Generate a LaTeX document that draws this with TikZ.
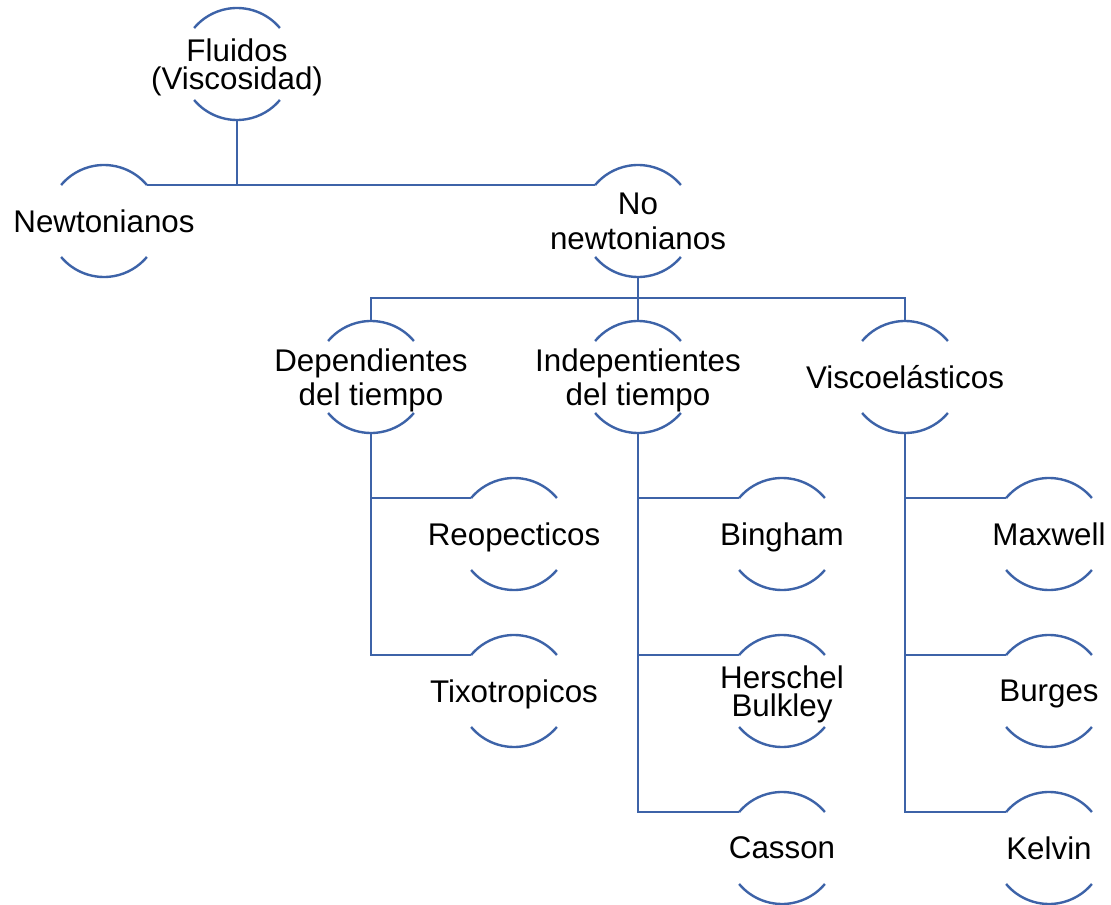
\documentclass[tikz,border=0pt]{standalone}
\usepackage{fontspec}
\setmainfont{Liberation Sans}
\definecolor{lineblue}{RGB}{61,99,168}
\newcommand\blobr{56}
\newcommand\mkblob[4]{%
  \node[lbl] (#1) at (#2,-#3) {#4};
  \coordinate (#1-t) at ([shift={(90:\blobr)}]#1.center);
  \coordinate (#1-b) at ([shift={(270:\blobr)}]#1.center);
  \coordinate (#1-tl) at ([shift={(140:\blobr)}]#1.center);
  \coordinate (#1-tr) at ([shift={(40:\blobr)}]#1.center);
  \coordinate (#1-bl) at ([shift={(220:\blobr)}]#1.center);
  \draw[conn] (#1-tr) arc[start angle=40, end angle=140, radius=\blobr];
  \draw[conn] (#1-bl) arc[start angle=220, end angle=320, radius=\blobr];
}
\begin{document}
\begin{tikzpicture}[x=0.75pt,y=0.75pt,
  lbl/.style={font=\fontsize{23.5}{21}\selectfont, align=center, inner sep=0pt, text depth=0pt, anchor=center},
  conn/.style={draw=lineblue, line width=1.8pt}]
\useasboundingbox (0,0) rectangle (1111,-905);
\mkblob{flu}{237}{64}{Fluidos\\(Viscosidad)}
\mkblob{new}{104}{221}{Newtonianos}
\mkblob{non}{638}{221}{No\\[5.25pt]newtonianos}
\mkblob{dep}{371}{377}{Dependientes\\[2.8pt]del tiempo}
\mkblob{ind}{638}{377}{Indepentientes\\[2.8pt]del tiempo}
\mkblob{vis}{905}{377}{Viscoelásticos}
\mkblob{reo}{514}{534}{Reopecticos}
\mkblob{tix}{514}{691}{Tixotropicos}
\mkblob{bin}{782}{534}{Bingham}
\mkblob{her}{782}{691}{Herschel\\Bulkley}
\mkblob{cas}{782}{848}{Casson}
\mkblob{max}{1049}{534}{Maxwell}
\mkblob{bur}{1049}{691}{Burges}
\mkblob{kel}{1049}{848}{Kelvin}
\coordinate (j1) at (638,-298);
% connectors
\draw[conn] (flu-b) -- (flu-b |- new-tr);
\draw[conn] (new-tr) -- (non-tl);
\draw[conn] (non-b) -- (ind-t);
\draw[conn] (dep-t) |- (j1) -| (vis-t);
\draw[conn] (dep-b) |- (reo-tl);
\draw[conn] (dep-b) |- (tix-tl);
\draw[conn] (ind-b) |- (bin-tl);
\draw[conn] (ind-b) |- (her-tl);
\draw[conn] (ind-b) |- (cas-tl);
\draw[conn] (vis-b) |- (max-tl);
\draw[conn] (vis-b) |- (bur-tl);
\draw[conn] (vis-b) |- (kel-tl);
\end{tikzpicture}
\end{document}
